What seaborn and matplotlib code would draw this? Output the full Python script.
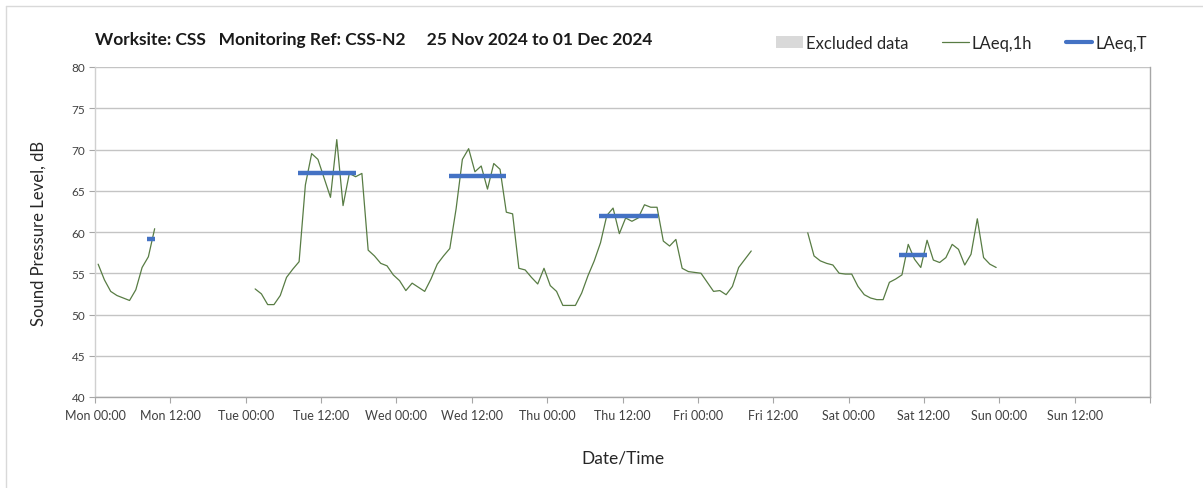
import numpy as np
import pandas as pd
import matplotlib
matplotlib.use('Agg')
import matplotlib.pyplot as plt
from matplotlib.lines import Line2D
from matplotlib.patches import Patch
import seaborn as sns

sns.set_theme(style='white')
plt.rcParams['font.family'] = ['Lato', 'DejaVu Sans']

# hourly LAeq,1h (plotted at hour centres, hours from Mon 00:00)
mon_start = 0.5
mon_laeq_1h = [56.1, 54.2, 52.8, 52.3, 52.0, 51.7, 53.0, 55.7, 57.0, 60.4]

tue_start = 25.5
tue_to_fri_laeq_1h = [53.1, 52.5, 51.2, 51.2, 52.3, 54.5, 55.5, 56.4, 65.7, 69.5,
                      68.8, 66.5, 64.2, 71.2, 63.2, 67.1, 66.7, 67.1, 57.8, 57.1,
                      56.2, 55.9, 54.8, 54.1, 52.9, 53.8, 53.3, 52.8, 54.3, 56.1,
                      57.1, 58.0, 62.8, 68.8, 70.1, 67.3, 68.0, 65.2, 68.3, 67.6,
                      62.4, 62.2, 55.6, 55.4, 54.5, 53.7, 55.6, 53.5, 52.8, 51.1,
                      51.1, 51.1, 52.6, 54.7, 56.5, 58.7, 62.0, 62.9, 59.8, 61.7,
                      61.3, 61.7, 63.3, 63.0, 63.0, 58.9, 58.3, 59.1, 55.6, 55.2,
                      55.1, 55.0, 53.9, 52.8, 52.9, 52.4, 53.4, 55.7, 56.7, 57.7]

fri_start = 113.5
fri_to_sat_laeq_1h = [59.9, 57.1, 56.5, 56.2, 56.0, 55.0, 54.9, 54.9, 53.4, 52.4,
                      52.0, 51.8, 51.8, 53.9, 54.3, 54.8, 58.5, 56.7, 55.7, 59.0,
                      56.6, 56.3, 56.9, 58.5, 57.9, 56.0, 57.3, 61.6, 56.9, 56.1,
                      55.7]

# LAeq,T periods
laeq_t_start = [8.25, 32.3, 56.3, 80.3, 128.0]
laeq_t_end = [9.6, 41.6, 65.5, 89.6, 132.5]
laeq_t_value = [59.1, 67.1, 66.8, 61.9, 57.2]

days = ['Mon', 'Tue', 'Wed', 'Thu', 'Fri', 'Sat', 'Sun']
tick_labels = [f'{d} {t}' for d in days for t in ['00:00', '12:00']] + ['']

frames = []
for seg, (start, vals) in enumerate([(mon_start, mon_laeq_1h),
                                     (tue_start, tue_to_fri_laeq_1h),
                                     (fri_start, fri_to_sat_laeq_1h)]):
    frames.append(pd.DataFrame({'hour': start + np.arange(len(vals)),
                                'level': vals, 'seg': seg}))
df = pd.concat(frames, ignore_index=True)

green = '#587C44'
blue = '#4472C4'

fig = plt.figure(figsize=(12.03, 4.89), dpi=100)
ax = fig.add_axes([95 / 1203, 1 - 398 / 489, (1150 - 95) / 1203, (398 - 68) / 489])

sns.lineplot(data=df, x='hour', y='level', units='seg', estimator=None,
             color=green, linewidth=0.9, ax=ax, legend=False)
ax.hlines(laeq_t_value, laeq_t_start, laeq_t_end, color=blue, linewidth=3.2, zorder=3)

ax.set_xlim(0, 168)
ax.set_ylim(40, 80)
ax.set_xticks(np.arange(0, 169, 12))
ax.set_xticklabels(tick_labels)
ax.set_xticks(np.arange(0, 169, 24), minor=True)
ax.set_yticks(np.arange(40, 81, 5))

ax.grid(False)
ax.grid(axis='y', which='major', color='#C4C4C4', linewidth=1.0)
ax.grid(axis='x', which='minor', color='#DDDDDD', linewidth=1.3)
ax.set_axisbelow(True)

ax.tick_params(axis='x', which='major', direction='out', length=4, width=0.8,
               color='#A6A6A6', labelsize=9, labelcolor='#404040', pad=5, bottom=True)
ax.tick_params(axis='x', which='minor', length=0)
ax.tick_params(axis='y', direction='out', length=4, width=0.8, color='#A6A6A6',
               labelsize=8.5, labelcolor='#404040', pad=3, left=True)

ax.spines['top'].set_visible(False)
ax.spines['bottom'].set_color('#A6A6A6')
ax.spines['right'].set_color('#A6A6A6')
ax.spines['left'].set_color('#D0D0D0')
for s in ['bottom', 'right', 'left']:
    ax.spines[s].set_linewidth(1.0)

ax.set_xlabel('Date/Time', fontsize=12.5, color='#262626', labelpad=20)
ax.set_ylabel('Sound Pressure Level, dB', fontsize=12, color='#262626', labelpad=18)

fig.text(95 / 1203, 1 - 40 / 489,
         'Worksite: CSS   Monitoring Ref: CSS-N2     25 Nov 2024 to 01 Dec 2024',
         fontsize=12.5, fontweight='bold', color='#1A1A1A', va='center', ha='left')

handles = [Patch(facecolor='#D9D9D9', edgecolor='none'),
           Line2D([], [], color=green, linewidth=0.9),
           Line2D([], [], color=blue, linewidth=3)]
fig.legend(handles, ['Excluded data', 'LAeq,1h', 'LAeq,T'], ncol=3, frameon=False,
           loc='center left', bbox_to_anchor=(761 / 1203, 1 - 44 / 489),
           fontsize=12, handlelength=1.6, handletextpad=0.2, columnspacing=2.0,
           labelcolor='#262626')

# chart area border (left and top edges visible)
fig.add_artist(Line2D([5.5 / 1203, 5.5 / 1203], [0, 1 - 7 / 489],
                      transform=fig.transFigure, color='#D9D9D9', linewidth=1))
fig.add_artist(Line2D([5.5 / 1203, 1], [1 - 7 / 489, 1 - 7 / 489],
                      transform=fig.transFigure, color='#D9D9D9', linewidth=1))

fig.savefig('out.png', dpi=100)
